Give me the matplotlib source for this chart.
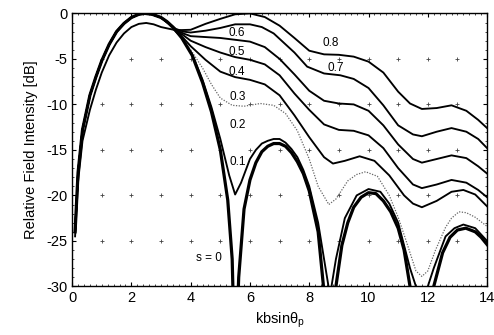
import matplotlib
matplotlib.use("Agg")
import matplotlib.pyplot as plt
import numpy as np

plt.rcParams["font.family"] = ["Liberation Sans", "DejaVu Sans"]
plt.rcParams["axes.unicode_minus"] = False

# shared rising edge on the left
x_left = [0.1, 0.2, 0.35, 0.6, 0.8, 1.0, 1.25, 1.5, 1.75, 2.0, 2.25, 2.45, 2.7, 3.0]
y_left = [-24.0, -17.5, -12.8, -9.0, -7.0, -5.2, -3.4, -2.0, -1.1, -0.45, -0.1, 0.0, -0.1, -0.45]

x_s0 = x_left + [3.2, 3.4, 3.7, 4.05, 4.4, 4.7, 5.0, 5.25, 5.4, 5.5, 5.62, 5.8, 6.0, 6.2,
                 6.4, 6.6, 6.8, 7.0, 7.2, 7.4, 7.6, 7.8, 8.0, 8.3, 8.48, 8.68, 8.9, 9.1,
                 9.3, 9.5, 9.75, 10.0, 10.25, 10.5, 10.75, 11.0, 11.2, 11.4, 11.8, 12.2,
                 12.5, 12.75, 13.0, 13.28, 13.6, 13.8, 14.0]
y_s0 = y_left + [-0.9, -1.5, -2.7, -4.6, -7.6, -10.8, -15.0, -20.5, -27.0, -40.0, -29.0,
                 -21.5, -18.3, -16.4, -15.2, -14.6, -14.3, -14.3, -14.6, -15.3, -16.3, -17.6,
                 -19.5, -24.0, -30.0, -45.0, -30.0, -25.5, -23.0, -21.3, -20.2, -19.7, -19.8,
                 -20.6, -21.8, -23.6, -26.0, -30.0, -45.0, -30.0, -26.3, -24.6, -23.8, -23.6,
                 -24.0, -24.6, -25.4]

x_s1 = x_left + [3.2, 3.4, 3.7, 4.05, 4.4, 4.7, 5.0, 5.3, 5.5, 5.7, 6.0, 6.2, 6.4, 6.6,
                 6.8, 7.0, 7.2, 7.4, 7.6, 7.8, 8.0, 8.3, 8.5, 8.7, 8.9, 9.2, 9.6, 10.0, 10.4,
                 10.7, 11.0, 11.4, 11.8, 12.2, 12.6, 12.9, 13.2, 13.6, 14.0]
y_s1 = y_left + [-0.9, -1.5, -2.7, -4.5, -7.3, -10.3, -13.8, -17.8, -19.9, -18.6, -16.0,
                 -15.0, -14.3, -14.0, -13.8, -13.8, -14.2, -14.9, -15.8, -17.2, -19.0, -23.0,
                 -27.0, -31.0, -27.0, -22.5, -20.0, -19.3, -19.6, -20.9, -23.0, -28.0, -32.0,
                 -28.0, -24.5, -23.6, -23.2, -23.6, -25.0]

x_s3 = x_left + [3.25, 3.5, 3.75, 4.0, 4.4, 4.7, 5.0, 5.4, 5.8, 6.35, 6.8, 7.2, 7.6, 8.0,
                 8.3, 8.66, 8.9, 9.3, 9.6, 9.9, 10.3, 10.7, 11.0, 11.25, 11.6, 11.8, 12.0,
                 12.26, 12.6, 12.8, 13.05, 13.3, 13.6, 14.0]
y_s3 = y_left + [-1.1, -2.0, -2.9, -4.0, -6.0, -7.8, -9.3, -10.1, -10.2, -9.9, -10.1, -11.0,
                 -12.9, -16.0, -19.0, -21.0, -20.4, -18.4, -17.7, -17.4, -17.9, -20.0,
                 -22.4, -24.8, -28.3, -28.9, -28.3, -26.0, -23.5, -22.5, -21.8, -21.9,
                 -22.4, -23.4]

x_s4 = x_left + [3.25, 3.5, 3.75, 4.0, 4.5, 5.0, 5.5, 6.0, 6.5, 7.0, 7.5, 8.0, 8.5, 8.8,
                 9.2, 9.7, 10.2, 10.7, 11.2, 11.5, 11.8, 12.3, 12.8, 13.2, 13.6, 14.0]
y_s4 = y_left + [-1.1, -2.0, -2.7, -3.6, -5.1, -6.4, -7.0, -7.3, -7.8, -9.0, -11.2, -13.6,
                 -15.8, -16.5, -16.2, -15.7, -16.2, -17.8, -20.0, -20.9, -21.3, -20.6,
                 -19.6, -19.4, -19.9, -21.2]

x_mid = [3.25, 3.5, 3.75, 4.0, 4.5, 5.0, 5.5, 6.0, 6.5, 7.0, 7.5, 8.0, 8.5, 9.0, 9.5, 10.0,
         10.5, 11.0, 11.5, 11.8, 12.3, 12.8, 13.3, 13.7, 14.0]
x_s5 = x_left + x_mid
y_s5 = y_left + [-1.1, -1.9, -2.4, -3.0, -3.7, -4.3, -4.8, -5.1, -5.6, -6.8, -8.8, -10.6,
                 -12.2, -12.8, -12.9, -13.4, -14.8, -17.0, -18.8, -19.2, -18.8, -18.3, -18.6,
                 -19.4, -20.2]
x_s6 = x_left + x_mid
y_s6 = y_left + [-1.1, -1.8, -2.2, -2.5, -2.6, -2.7, -2.9, -3.1, -3.7, -5.0, -6.7, -8.5,
                 -9.6, -9.9, -10.0, -10.7, -12.3, -14.4, -16.0, -16.4, -16.0, -15.6, -15.9,
                 -16.8, -17.6]
x_s7 = x_left + [3.25, 3.5, 3.75, 4.0, 4.5, 5.0, 5.5, 6.0, 6.4, 6.8, 7.2, 7.5, 7.93, 8.5,
                 9.05, 9.5, 10.0, 10.5, 11.0, 11.5, 11.8, 12.3, 12.8, 13.3, 13.7, 14.0]
y_s7 = y_left + [-1.1, -1.7, -2.0, -2.1, -1.9, -1.6, -1.2, -1.2, -1.5, -2.2, -3.4, -4.3,
                 -5.85, -6.6, -6.8, -7.2, -8.2, -10.1, -12.3, -13.3, -13.5, -13.0, -12.6,
                 -13.0, -13.8, -14.8]
x_s8 = [0.1, 0.2, 0.35, 0.6, 0.8, 1.0, 1.25, 1.5, 1.75, 2.0, 2.25, 2.5, 2.75, 3.0, 3.5,
        4.0, 4.5, 5.0, 5.5, 6.0, 6.5, 7.0, 7.5, 8.0, 8.5, 9.0, 9.5, 10.0, 10.5, 11.0, 11.4,
        11.8, 12.3, 12.8, 13.3, 13.7, 14.0]
y_s8 = [-24.5, -18.5, -14.0, -10.6, -8.4, -6.5, -4.6, -3.2, -2.2, -1.5, -1.15, -1.05, -1.2,
        -1.5, -1.85, -1.8, -1.15, -0.6, -0.1, 0.0, -0.4, -1.35, -2.7, -4.1, -4.5, -4.55,
        -4.75, -5.3, -6.5, -8.6, -9.9, -10.5, -10.4, -10.1, -10.7, -11.7, -12.6]

curve_labels = ["0.8", "0.7", "0.6", "0.5", "0.4", "0.3", "0.2", "0.1", "s = 0"]
label_x = [8.72, 8.9, 5.57, 5.57, 5.57, 5.57, 5.57, 5.6, 4.6]
label_y = [-3.2, -6.0, -2.2, -4.2, -6.4, -9.2, -12.3, -16.3, -26.9]

fig = plt.figure(figsize=(4.94, 3.35), dpi=100)
ax = fig.add_axes([0.146, 0.145, 0.84, 0.815])

# grid crosses
gx, gy = np.meshgrid(np.arange(1, 14), np.arange(-25, 0, 5))
ax.plot(gx.ravel(), gy.ravel(), "+", color="#444444", ms=2.8, mew=0.6, zorder=1)

for xs, ys in [(x_s8, y_s8), (x_s7, y_s7), (x_s6, y_s6), (x_s5, y_s5), (x_s4, y_s4), (x_s1, y_s1)]:
    ax.plot(xs, ys, color="black", lw=1.35)
ax.plot(x_s3, y_s3, color="#666666", lw=0.9, ls=(0, (1, 1.2)))
ax.plot(x_s0, y_s0, color="black", lw=2.3)

for t, lx, ly in zip(curve_labels, label_x, label_y):
    ax.text(lx, ly, t, fontsize=8.5, ha="center", va="center")

ax.set_xlim(0, 14)
ax.set_ylim(-30, 0)
ax.set_xticks(np.arange(0, 15, 2))
ax.set_yticks(np.arange(-30, 1, 5))
ax.set_xticks(np.arange(0, 14.01, 0.2), minor=True)
ax.set_yticks(np.arange(-30, 0.01, 1), minor=True)
ax.tick_params(which="both", direction="in", top=True, right=True, labelsize=10.5)
ax.tick_params(which="major", length=3, width=0.8)
ax.tick_params(which="minor", length=1.5, width=0.5)
for sp in ax.spines.values():
    sp.set_linewidth(1.0)
ax.set_xlabel("kbsinθ$_\\mathregular{p}$", fontsize=10.5, labelpad=4)
ax.set_ylabel("Relative Field Intensity [dB]", fontsize=10.5, labelpad=6)

fig.savefig("out.png", dpi=100)
